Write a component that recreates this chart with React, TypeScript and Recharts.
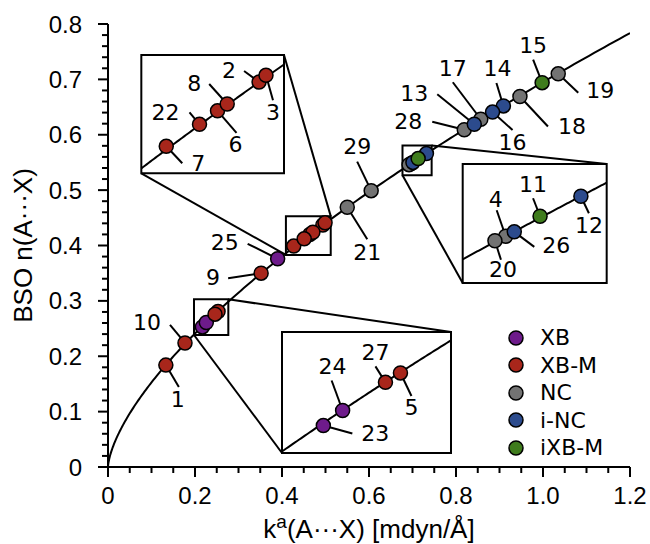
import {
  ScatterChart,
  Scatter,
  XAxis,
  YAxis,
  ReferenceArea,
  ReferenceLine,
  Legend,
} from "recharts";

// compounds 1..29
const compoundIds = [
  1, 2, 3, 4, 5, 6, 7, 8, 9, 10, 11, 12, 13, 14, 15, 16, 17, 18, 19, 20, 21, 22,
  23, 24, 25, 26, 27, 28, 29,
];
const kValues = [
  0.133, 0.494, 0.499, 0.697, 0.253, 0.464, 0.427, 0.471, 0.352, 0.177, 0.713,
  0.732, 0.842, 0.909, 0.998, 0.884, 0.857, 0.947, 1.035, 0.692, 0.55, 0.451,
  0.217, 0.226, 0.39, 0.701, 0.246, 0.819, 0.605,
];
const bsoValues = [
  0.184, 0.437, 0.441, 0.548, 0.281, 0.42, 0.399, 0.424, 0.35, 0.224, 0.557,
  0.566, 0.619, 0.652, 0.694, 0.641, 0.628, 0.669, 0.71, 0.546, 0.469, 0.412,
  0.253, 0.261, 0.376, 0.55, 0.276, 0.609, 0.499,
];
const bondTypes = [
  "XB-M", "XB-M", "XB-M", "NC", "XB-M", "XB-M", "XB-M", "XB-M", "XB-M", "XB-M",
  "iXB-M", "i-NC", "i-NC", "i-NC", "iXB-M", "i-NC", "NC", "NC", "NC", "NC",
  "NC", "XB-M", "XB", "XB", "XB", "i-NC", "XB-M", "NC", "NC",
];

const typeNames = ["XB", "XB-M", "NC", "i-NC", "iXB-M"];
const typeColors = ["#6e1b8b", "#a8261b", "#737373", "#2c4b8d", "#3f7c1d"];

const xMajorTicks = [0, 0.2, 0.4, 0.6, 0.8, 1.0, 1.2];
const yMajorTicks = [0, 0.1, 0.2, 0.3, 0.4, 0.5, 0.6, 0.7, 0.8];
const xMinorTicks = Array.from({ length: 25 }, (_, i) => +(i * 0.05).toFixed(2));
const yMinorTicks = Array.from({ length: 41 }, (_, i) => +(i * 0.02).toFixed(2));

// power-law fit n = a * k^b
const fitA = 0.695;
const fitB = 0.658;

// zoomed windows (data units): source box and inset box
const zoomFrom = [
  { x1: 0.409, x2: 0.512, y1: 0.383, y2: 0.453 },
  { x1: 0.677, x2: 0.744, y1: 0.527, y2: 0.5805 },
  { x1: 0.1977, x2: 0.2766, y1: 0.2384, y2: 0.3028 },
];
const zoomTo = [
  { x1: 0.0766, x2: 0.4046, y1: 0.5303, y2: 0.744 },
  { x1: 0.8154, x2: 1.1464, y1: 0.3323, y2: 0.5472 },
  { x1: 0.4, x2: 0.7885, y1: 0.0253, y2: 0.2438 },
];
const connectorCorners = [
  ["bl", "tr"],
  ["tr", "bl"],
  ["tr", "bl"],
];

// label leader: [line dx, line dy, text dx, text dy] in px
const labelOffsets: Record<number, number[]> = {
  1: [13, 22, 12, 34],
  2: [-15, -11, -30, -12],
  3: [7, 25, 7, 37],
  4: [-9, -26, -10, -37],
  5: [11, 23, 11, 35],
  6: [19, 22, 18, 34],
  7: [16, 17, 32, 17],
  8: [-18, -20, -33, -21],
  9: [-33, 5, -48, 4],
  10: [-15, -18, -38, -20],
  11: [-7, -18, -7, -32],
  12: [8, 17, 8, 29],
  13: [-37, -30, -60, -31],
  14: [-7, -23, -6, -37],
  15: [-9, -23, -9, -37],
  16: [20, 18, 20, 30],
  17: [-28, -37, -28, -51],
  18: [28, 30, 52, 30],
  19: [20, 19, 42, 17],
  20: [6, 19, 8, 29],
  21: [20, 32, 20, 45],
  22: [-10, -12, -34, -12],
  23: [29, 8, 52, 8],
  24: [-11, -30, -10, -44],
  25: [-30, -15, -53, -16],
  26: [20, 15, 42, 14],
  27: [-10, -16, -10, -30],
  28: [-32, -8, -56, -8],
  29: [-14, -29, -14, -44],
};

const points = compoundIds.map((id, i) => ({
  id,
  x: kValues[i],
  y: bsoValues[i],
  type: bondTypes[i],
}));

const inBox = (p: { x: number; y: number }, b: any) =>
  p.x >= b.x1 && p.x <= b.x2 && p.y >= b.y1 && p.y <= b.y2;

const mapTo = (x: number, y: number, k: number) => {
  const s = zoomFrom[k];
  const d = zoomTo[k];
  return {
    x: d.x1 + ((x - s.x1) / (s.x2 - s.x1)) * (d.x2 - d.x1),
    y: d.y1 + ((y - s.y1) / (s.y2 - s.y1)) * (d.y2 - d.y1),
  };
};

const fit = (x: number) => fitA * Math.pow(x, fitB);

const mainCurve = Array.from({ length: 201 }, (_, i) => {
  const t = i / 200;
  const x = 1.2 * t * t;
  return { x, y: fit(x) };
});

const insetCurves = zoomFrom.map((s, k) =>
  Array.from({ length: 81 }, (_, i) => s.x1 + ((s.x2 - s.x1) * i) / 80)
    .map((x) => ({ x, y: fit(x) }))
    .filter((p) => p.y >= s.y1 && p.y <= s.y2)
    .map((p) => mapTo(p.x, p.y, k))
);

const insetPoints = zoomFrom.map((s, k) =>
  points.filter((p) => inBox(p, s)).map((p) => ({ ...p, ...mapTo(p.x, p.y, k) }))
);

const labelPoints = [
  ...points.filter((p) => !zoomFrom.some((s) => inBox(p, s))),
  ...insetPoints.flat(),
];

const corner = (b: any, c: string) =>
  c === "bl" ? { x: b.x1, y: b.y1 } : { x: b.x2, y: b.y2 };

const colorOf = (t: string) => typeColors[typeNames.indexOf(t)];

const isMajor = (v: number, step: number) =>
  Math.abs(v / step - Math.round(v / step)) < 1e-6;
const fmt = (v: number) => (v === 0 ? "0" : v.toFixed(1));

const tickFont = {
  fontFamily: "'Liberation Sans', Arial, sans-serif",
  fontSize: 24,
};
const markFont = { fontFamily: "'DejaVu Sans', Verdana, sans-serif", fontSize: 22 };

function BottomTick({ x, y, payload }: any) {
  const major = isMajor(payload.value, 0.2);
  return (
    <g>
      <line x1={x} y1={y} x2={x} y2={y + (major ? 10 : 6)} stroke="#000" strokeWidth={2} />
      {major && (
        <text x={x} y={y + 28} textAnchor="middle" dominantBaseline="central" fill="#000" {...tickFont}>
          {fmt(payload.value)}
        </text>
      )}
    </g>
  );
}

function TopTick({ x, y, payload }: any) {
  const major = isMajor(payload.value, 0.2);
  return <line x1={x} y1={y} x2={x} y2={y + (major ? 10 : 6)} stroke="#000" strokeWidth={2} />;
}

function LeftTick({ x, y, payload }: any) {
  const major = isMajor(payload.value, 0.1);
  return (
    <g>
      <line x1={x - (major ? 10 : 6)} y1={y} x2={x} y2={y} stroke="#000" strokeWidth={2} />
      {major && (
        <text x={x - 26} y={y} textAnchor="end" dominantBaseline="central" fill="#000" {...tickFont}>
          {fmt(payload.value)}
        </text>
      )}
    </g>
  );
}

function RightTick({ x, y, payload }: any) {
  const major = isMajor(payload.value, 0.1);
  return <line x1={x - (major ? 10 : 6)} y1={y} x2={x} y2={y} stroke="#000" strokeWidth={2} />;
}

function XTitle(props: any) {
  const vb = props.viewBox || { x: 108, y: 467, width: 522, height: 77 };
  return (
    <text x={vb.x + vb.width / 2} y={vb.y + 71} textAnchor="middle" fill="#000" fontFamily={tickFont.fontFamily} fontSize={26}>
      k
      <tspan dy={-10} fontSize={19}>a</tspan>
      <tspan dy={10}>(A···X) [mdyn/Å]</tspan>
    </text>
  );
}

function YTitle(props: any) {
  const vb = props.viewBox || { x: 0, y: 24, width: 108, height: 443 };
  const cx = vb.x + 23;
  const cy = vb.y + vb.height / 2;
  return (
    <text x={cx} y={cy} transform={`rotate(-90 ${cx} ${cy})`} textAnchor="middle" dominantBaseline="central" fill="#000" fontFamily={tickFont.fontFamily} fontSize={26}>
      BSO n(A···X)
    </text>
  );
}

function Dot({ cx, cy, payload }: any) {
  return <circle cx={cx} cy={cy} r={7} fill={colorOf(payload.type)} stroke="#000" strokeWidth={1.5} />;
}

function Tag({ cx, cy, payload }: any) {
  const o = labelOffsets[payload.id];
  if (!o) return <g />;
  return (
    <g>
      <line x1={cx} y1={cy} x2={cx + o[0]} y2={cy + o[1]} stroke="#000" strokeWidth={2} />
      <text x={cx + o[2]} y={cy + o[3]} textAnchor="middle" dominantBaseline="central" fill="#000" {...markFont}>
        {payload.id}
      </text>
    </g>
  );
}

function LegendBox() {
  return (
    <div style={{ ...markFont, color: "#000" }}>
      {typeNames.map((n, i) => (
        <div key={n} style={{ display: "flex", alignItems: "center", height: 27.5 }}>
          <svg width={20} height={20}>
            <circle cx={10} cy={10} r={7} fill={typeColors[i]} stroke="#000" strokeWidth={1.5} />
          </svg>
          <span style={{ marginLeft: 14 }}>{n}</span>
        </div>
      ))}
    </div>
  );
}

const noShape = () => <g />;

export default function App() {
  return (
    <div style={{ position: "absolute", left: 0, top: 0, width: 650, height: 544, background: "#fff" }}>
      <ScatterChart width={650} height={544} margin={{ top: 24, right: 20, bottom: 0, left: 0 }}>
        <XAxis
          type="number"
          dataKey="x"
          domain={[0, 1.2]}
          allowDataOverflow
          ticks={xMinorTicks}
          interval={0}
          tickSize={0}
          tickMargin={0}
          tickLine={false}
          tick={<BottomTick />}
          axisLine={{ stroke: "#000", strokeWidth: 2 }}
          height={77}
          label={(p: any) => <XTitle {...p} />}
        />
        <XAxis
          xAxisId="top"
          orientation="top"
          type="number"
          domain={[0, 1.2]}
          allowDataOverflow
          ticks={xMinorTicks}
          interval={0}
          tickSize={0}
          tickMargin={0}
          tickLine={false}
          tick={<TopTick />}
          axisLine={{ stroke: "#000", strokeWidth: 2 }}
          height={0}
        />
        <YAxis
          type="number"
          dataKey="y"
          domain={[0, 0.8]}
          allowDataOverflow
          ticks={yMinorTicks}
          interval={0}
          tickSize={0}
          tickMargin={0}
          tickLine={false}
          tick={<LeftTick />}
          axisLine={{ stroke: "#000", strokeWidth: 2 }}
          width={108}
          label={(p: any) => <YTitle {...p} />}
        />
        <YAxis
          yAxisId="right"
          orientation="right"
          type="number"
          domain={[0, 0.8]}
          allowDataOverflow
          ticks={yMinorTicks}
          interval={0}
          tickSize={0}
          tickMargin={0}
          tickLine={false}
          tick={<RightTick />}
          axisLine={{ stroke: "#000", strokeWidth: 2 }}
          width={0}
        />

        {zoomFrom.map((s, k) => {
          const d = zoomTo[k];
          const [c1, c2] = connectorCorners[k];
          return [
            <ReferenceLine key={`c1${k}`} segment={[corner(s, c1), corner(d, c1)]} stroke="#000" strokeWidth={2} ifOverflow="visible" />,
            <ReferenceLine key={`c2${k}`} segment={[corner(s, c2), corner(d, c2)]} stroke="#000" strokeWidth={2} ifOverflow="visible" />,
            <ReferenceArea key={`s${k}`} x1={s.x1} x2={s.x2} y1={s.y1} y2={s.y2} fill="none" stroke="#000" strokeWidth={2} ifOverflow="visible" />,
            <ReferenceArea key={`d${k}`} x1={d.x1} x2={d.x2} y1={d.y1} y2={d.y2} fill="#fff" fillOpacity={1} stroke="#000" strokeWidth={2} ifOverflow="visible" />,
          ];
        })}

        <Scatter data={mainCurve} line={{ stroke: "#000", strokeWidth: 2 }} shape={noShape} legendType="none" isAnimationActive={false} />
        {insetCurves.map((c, k) => (
          <Scatter key={`ic${k}`} data={c} line={{ stroke: "#000", strokeWidth: 2 }} shape={noShape} legendType="none" isAnimationActive={false} />
        ))}

        <Scatter data={labelPoints} shape={<Tag />} legendType="none" isAnimationActive={false} />

        {typeNames.map((t, i) => (
          <Scatter
            key={t}
            name={t}
            data={points.filter((p) => p.type === t)}
            fill={typeColors[i]}
            shape={<Dot />}
            isAnimationActive={false}
          />
        ))}
        {insetPoints.map((pts, k) => (
          <Scatter key={`ip${k}`} data={pts} shape={<Dot />} legendType="none" isAnimationActive={false} />
        ))}

        <Legend
          layout="vertical"
          align="center"
          verticalAlign="middle"
          wrapperStyle={{ left: 506, top: 324, width: 140, height: 140 }}
          content={() => <LegendBox />}
        />
      </ScatterChart>
    </div>
  );
}
